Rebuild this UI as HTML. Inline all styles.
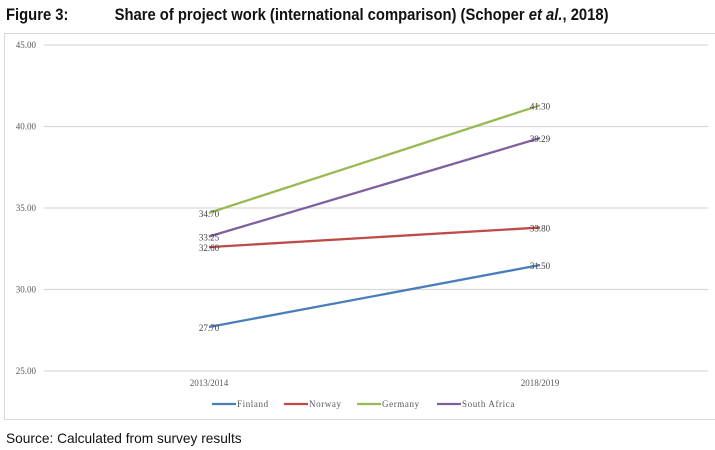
<!DOCTYPE html>
<html><head><meta charset="utf-8"><style>
body{margin:0;width:715px;height:450px;background:#fff;overflow:hidden;font-family:"Liberation Sans",sans-serif}
#title{position:absolute;left:6px;top:5px;font-size:17px;font-weight:bold;color:#111;transform:scaleX(0.87);transform-origin:left;white-space:nowrap}
#src{position:absolute;left:6px;top:430px;font-size:14px;color:#111;transform:scaleX(0.98);transform-origin:left}
#box{position:absolute;left:4px;top:33px;width:715px;height:387px;border:1px solid #d9d9d9;box-sizing:border-box}
svg{position:absolute;left:0;top:0}
</style></head><body>
<div id="title">Figure 3:<span style="display:inline-block;width:53px"></span>Share of project work (international comparison) (Schoper <i>et al.</i>, 2018)</div>
<div id="box"></div>
<svg id="chart" width="715" height="450"></svg>
<div id="src">Source: Calculated from survey results</div>
<script>
const categories=["2013/2014","2018/2019"];
const seriesNames=["Finland","Norway","Germany","South Africa"];
const finland=[27.70,31.50];
const norway=[32.60,33.80];
const germany=[34.70,41.30];
const southAfrica=[33.25,39.29];
const yTicks=[25,30,35,40,45];
const colors=["#4a7ebb","#be4b48","#98b954","#7d60a0"];
const allSeries=[finland,norway,germany,southAfrica];
const NS="http://www.w3.org/2000/svg";
const svg=document.getElementById('chart');
const y=v=>371-(v-25)*(371-45)/20;
const x=i=>209+i*331;
function mk(t,a){const e=document.createElementNS(NS,t);for(const k in a)e.setAttribute(k,a[k]);svg.appendChild(e);return e;}
yTicks.forEach(t=>{
 const g=mk('line',{x1:44,x2:708,y1:y(t),y2:y(t),stroke:'#d9d9d9','stroke-width':1.3});
 
 
 const l=mk('text',{x:36,y:y(t)+3,'text-anchor':'end','font-size':9,fill:'#595959','font-family':'Liberation Serif, serif'});
 l.textContent=t.toFixed(2);
 
 
});
categories.forEach((c,i)=>{
 const l=mk('text',{x:x(i),y:386,'text-anchor':'middle','font-size':9,fill:'#595959','font-family':'Liberation Serif, serif'});
 l.textContent=c;
 
 
});
allSeries.forEach((s,k)=>{
 const p=mk('polyline',{points:s.map((v,i)=>x(i)+','+y(v)).join(' '),fill:'none',stroke:colors[k],'stroke-width':2.3});
 
 
 s.forEach((v,i)=>{
  const t=mk('text',{x:x(i),y:y(v)+4,'text-anchor':'middle','font-size':9,fill:'#404040','font-family':'Liberation Serif, serif'});
  t.textContent=v.toFixed(2);
  
  
 });
});
let lx=212;
seriesNames.forEach((n,k)=>{
 const l=mk('line',{x1:lx,x2:lx+24,y1:404,y2:404,stroke:colors[k],'stroke-width':2.3});
 
 
 const t=mk('text',{x:lx+25,y:407,'font-size':9,fill:'#595959','font-family':'Liberation Serif, serif','letter-spacing':'0.6'});
 t.textContent=n;
 
 
 lx+= [72,73,80,0][k];
});
</script>
</body></html>
